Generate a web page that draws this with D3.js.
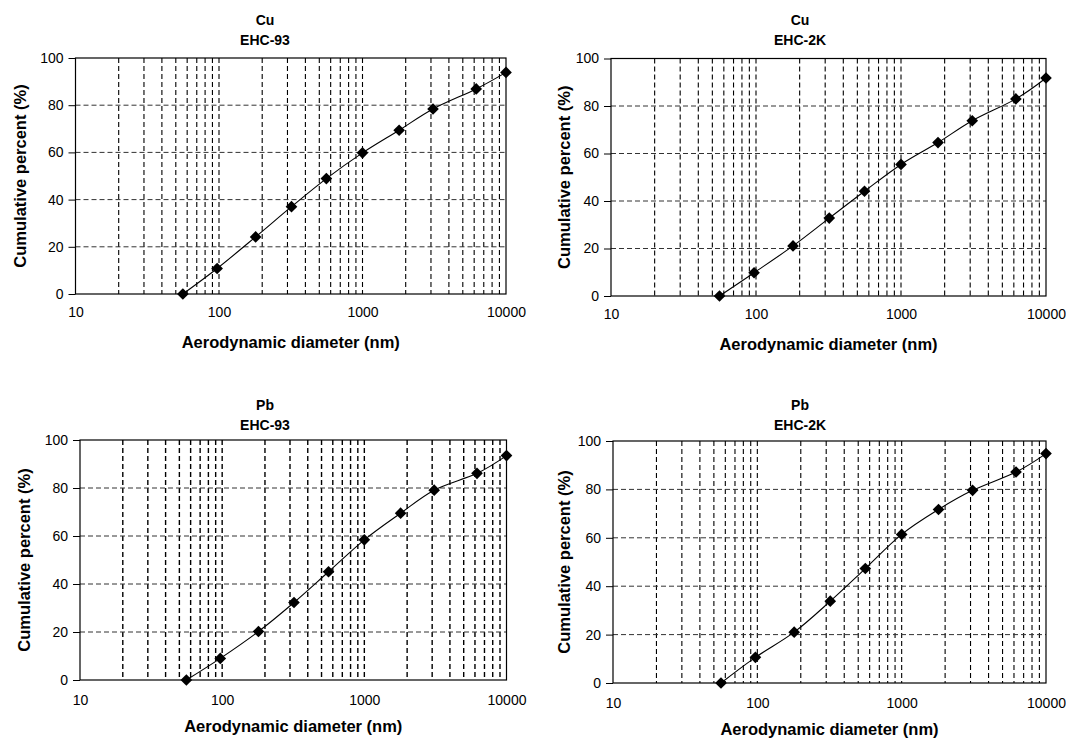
<!DOCTYPE html>
<meta charset="utf-8">
<head>
<title>Cumulative size distribution</title>
<style>
  body { margin: 0; background: #fff; }
  svg { font-family: "Liberation Sans", Arial, sans-serif; }
  .tick text { font-size: 14px; fill: #000; }
  .ttl { font-weight: bold; font-size: 14px; text-anchor: middle; }
  .axttl { font-weight: bold; font-size: 16.5px; text-anchor: middle; }
</style>
</head>
<body>
<svg id="chart" width="1066" height="740"></svg>
<script src="https://d3js.org/d3.v7.min.js"></script>
<script>
// cut-point diameters (nm), same for all four panels
const diameters = [56, 97, 180, 320, 560, 1000, 1800, 3100, 6200, 10000];

// cumulative percent
const cuEhc93 = [0, 10.8, 24.2, 37.0, 48.9, 59.8, 69.4, 78.4, 86.9, 93.9];
const cuEhc2k = [0, 9.8, 21.1, 32.8, 44.1, 55.4, 64.6, 73.8, 83.0, 91.8];
const pbEhc93 = [0, 9.0, 20.2, 32.3, 45.1, 58.4, 69.5, 79.1, 86.1, 93.5];
const pbEhc2k = [0, 10.6, 21.0, 33.8, 47.3, 61.4, 71.7, 79.6, 87.2, 94.8];

const elements = ["Cu", "Cu", "Pb", "Pb"];
const samples = ["EHC-93", "EHC-2K", "EHC-93", "EHC-2K"];
const xTicks = [10, 100, 1000, 10000];
const yTicks = [0, 20, 40, 60, 80, 100];

const xTitle = "Aerodynamic diameter (nm)";
const yTitle = "Cumulative percent (%)";

const svg = d3.select("#chart");

// panel boxes (pixels)
const panels = [
  { ys: cuEhc93, l: 75.5, r: 506, t: 58, b: 294, cx: 265, t1: 25, t2: 45, pad: 13, xt: 348, yt: 20 },
  { ys: cuEhc2k, l: 611, r: 1046, t: 58.5, b: 296, cx: 800, t1: 25, t2: 45, pad: 13, xt: 350, yt: 564 },
  { ys: pbEhc93, l: 80, r: 506.5, t: 440, b: 680, cx: 265, t1: 410, t2: 430, pad: 15, xt: 732, yt: 24 },
  { ys: pbEhc2k, l: 613, r: 1046, t: 441, b: 683, cx: 800, t1: 410, t2: 430, pad: 15, xt: 735, yt: 564 }
];

panels.forEach(function(p, i) {
  const x = d3.scaleLog().domain([10, 10000]).range([p.l, p.r]);
  const y = d3.scaleLinear().domain([0, 100]).range([p.b, p.t]);
  const g = svg.append("g");

  // vertical grid on every log tick
  g.append("g").selectAll("line")
    .data(x.ticks().filter(d => d > 10 && d < 10000))
    .join("line")
    .attr("x1", d => x(d)).attr("x2", d => x(d))
    .attr("y1", p.t).attr("y2", p.b)
    .attr("stroke", "#000")
    .attr("stroke-width", i == 2 ? 1.4 : 1.1)
    .attr("stroke-dasharray", "5,3");

  // horizontal grid
  g.append("g").selectAll("line")
    .data(yTicks.filter(d => d > 0 && d < 100))
    .join("line")
    .attr("x1", p.l).attr("x2", p.r)
    .attr("y1", d => y(d)).attr("y2", d => y(d))
    .attr("stroke", "#333")
    .attr("stroke-dasharray", "5,3");

  // frame
  g.append("rect")
    .attr("x", p.l).attr("y", p.t)
    .attr("width", p.r - p.l).attr("height", p.b - p.t)
    .attr("fill", "none").attr("stroke", "#000").attr("stroke-width", 1.2);

  // axes
  const ya = g.append("g")
    .attr("transform", "translate(" + p.l + ",0)")
    .call(d3.axisLeft(y).tickValues(yTicks).tickSize(7).tickPadding(5));
  ya.select(".domain").remove();

  const xa = g.append("g")
    .attr("transform", "translate(0," + p.b + ")")
    .call(d3.axisBottom(x).tickValues(xTicks).tickFormat(d3.format("d")).tickSize(0).tickPadding(p.pad));
  xa.select(".domain").remove();
  xa.selectAll(".tick line").remove();

  // series line (Excel-style smoothing)
  const pts = diameters.map((d, k) => [d, p.ys[k]]);
  g.append("path")
    .datum(pts)
    .attr("fill", "none")
    .attr("stroke", "#000")
    .attr("stroke-width", 1.1)
    .attr("d", d3.line().x(d => x(d[0])).y(d => y(d[1])).curve(d3.curveCatmullRom.alpha(0)));

  g.append("g").selectAll("path")
    .data(pts)
    .join("path")
    .attr("transform", d => "translate(" + x(d[0]) + "," + y(d[1]) + ") rotate(45)")
    .attr("d", d3.symbol().type(d3.symbolSquare).size(68))
    .attr("fill", "#000");

  // titles
  g.append("text").attr("class", "ttl").attr("x", p.cx).attr("y", p.t1).text(elements[i]);
  g.append("text").attr("class", "ttl").attr("x", p.cx).attr("y", p.t2).text(samples[i]);
  g.append("text").attr("class", "axttl").attr("x", (p.l + p.r) / 2).attr("y", p.xt).text(xTitle);
  g.append("text").attr("class", "axttl")
    .attr("transform", "translate(" + p.yt + "," + (p.t + p.b) / 2 + ") rotate(-90)")
    .attr("dy", "0.35em")
    .text(yTitle);
});
</script>
</body>
